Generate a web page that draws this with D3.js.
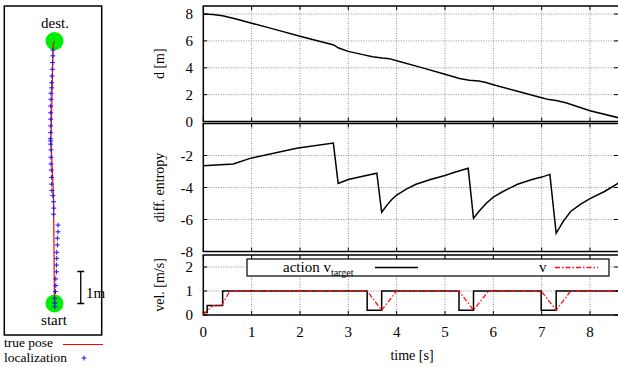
<!DOCTYPE html>
<html>
<head>
<meta charset="utf-8">
<script src="https://cdn.jsdelivr.net/npm/d3@7"></script>
<style>
  body { margin: 0; background: #fff; }
</style>
</head>
<body>
<div id="chart"></div>
<script>
// ---- data ----
// distance to destination d [m] over time
const dTime = [0, 0.2, 0.4, 0.7, 1.0, 1.5, 2.0, 2.5, 2.7, 2.8, 3.0, 3.3, 3.5, 3.7, 3.85, 4.0, 4.5, 5.0, 5.3, 5.5, 5.7, 5.85, 6.0, 6.5, 7.0, 7.15, 7.3, 7.5, 8.0, 8.6];
const dValue = [8.0, 7.96, 7.88, 7.62, 7.32, 6.84, 6.35, 5.88, 5.70, 5.47, 5.22, 4.98, 4.82, 4.72, 4.68, 4.52, 4.03, 3.52, 3.20, 3.08, 3.02, 2.90, 2.73, 2.25, 1.77, 1.63, 1.57, 1.40, 0.80, 0.27];

// differential entropy
const hTime = [0, 0.62, 0.97, 1.93, 2.69, 2.79, 3.0, 3.3, 3.59, 3.69, 3.8, 3.9, 4.0, 4.2, 4.4, 4.7, 5.0, 5.2, 5.48, 5.59, 5.7, 5.85, 6.0, 6.2, 6.5, 6.8, 7.0, 7.17, 7.30, 7.45, 7.6, 7.8, 8.0, 8.3, 8.6];
const hValue = [-2.64, -2.53, -2.18, -1.55, -1.22, -3.74, -3.5, -3.3, -3.11, -5.55, -5.1, -4.75, -4.47, -4.1, -3.8, -3.5, -3.25, -3.05, -2.80, -5.93, -5.5, -5.0, -4.6, -4.25, -3.8, -3.5, -3.35, -3.18, -6.86, -6.1, -5.5, -5.05, -4.7, -4.25, -3.7];

// action v_target (step function)
const aTime = [0, 0.08, 0.08, 0.40, 0.40, 3.39, 3.39, 3.69, 3.69, 5.29, 5.29, 5.59, 5.59, 6.99, 6.99, 7.30, 7.30, 8.6];
const aValue = [0.1, 0.1, 0.4, 0.4, 1, 1, 0.2, 0.2, 1, 1, 0.2, 0.2, 1, 1, 0.2, 0.2, 1, 1];

// measured velocity v
const vTime = [0, 0.2, 0.38, 0.55, 3.39, 3.69, 4.0, 5.29, 5.59, 5.9, 6.99, 7.30, 7.6, 8.6];
const vValue = [0.03, 0.39, 0.4, 1, 1, 0.2, 1, 1, 0.2, 1, 1, 0.2, 1, 1];

// map: true pose and localization estimates [m]
const trueX = [0, -0.03, -0.11, -0.04, 0];
const trueY = [0, 3.3, 5.1, 8.1, 8.2];
const locX = [-0.05, -0.05, -0.06, -0.07, -0.08, -0.09, -0.09, -0.11, -0.11, -0.12, -0.12, -0.12, -0.12, -0.12, -0.13, -0.12, -0.12, -0.11, -0.11, -0.11, -0.10, -0.09, -0.09, -0.08, -0.05, -0.03, -0.02, -0.03, 0.11, 0.11, 0.09, 0.09, 0.07, 0.07, 0.06, 0.06, 0.04, 0.04, 0.03, 0.01, 0.01, 0.01];
const locY = [7.92, 7.74, 7.53, 7.32, 7.11, 6.90, 6.74, 6.57, 6.38, 6.17, 5.96, 5.76, 5.55, 5.34, 5.15, 5.08, 4.98, 4.80, 4.57, 4.36, 4.17, 3.94, 3.73, 3.53, 3.37, 3.18, 2.98, 2.79, 2.45, 2.24, 2.04, 1.83, 1.60, 1.41, 1.20, 0.99, 0.77, 0.56, 0.37, 0.16, 0.01, -0.10];
const startPos = [0, 0];
const destPos = [0, 8.2];

const xTicks = [0, 1, 2, 3, 4, 5, 6, 7, 8];
const dTicks = [0, 2, 4, 6, 8];
const hTicks = [-8, -6, -4, -2];
const vTicks = [0, 1, 2];

// ---- layout ----
const W = 618, H = 367;
const svg = d3.select('#chart').append('svg')
    .attr('width', W)
    .attr('height', H);

const x = d3.scaleLinear().domain([0, 8.6]).range([203.3, 619]);

const panels = [
    { y: d3.scaleLinear().domain([0, 8.6]).range([121.5, 6]), ticks: dTicks, label: 'd [m]' },
    { y: d3.scaleLinear().domain([-8, 0]).range([251.5, 123.5]), ticks: hTicks, label: 'diff. entropy' },
    { y: d3.scaleLinear().domain([0, 2.5]).range([315, 255]), ticks: vTicks, label: 'vel. [m/s]' }
];

panels.forEach(p => {
    const [y0, y1] = p.y.range();
    const g = svg.append('g');
    // grid
    g.selectAll('.vgrid').data(xTicks.slice(1)).join('line')
        .attr('x1', d => x(d)).attr('x2', d => x(d))
        .attr('y1', y0).attr('y2', y1)
        .attr('stroke', '#777').attr('stroke-width', 0.8).attr('stroke-dasharray', '1,1.5');
    g.selectAll('.hgrid').data(p.ticks.filter(t => t !== p.y.domain()[0])).join('line')
        .attr('x1', x.range()[0]).attr('x2', x.range()[1])
        .attr('y1', d => p.y(d)).attr('y2', d => p.y(d))
        .attr('stroke', '#777').attr('stroke-width', 0.8).attr('stroke-dasharray', '1,1.5');
    // ticks (inward, all four sides)
    xTicks.forEach(t => {
        g.append('line').attr('x1', x(t)).attr('x2', x(t)).attr('y1', y0).attr('y2', y0 - 4).attr('stroke', '#000');
        g.append('line').attr('x1', x(t)).attr('x2', x(t)).attr('y1', y1).attr('y2', y1 + 4).attr('stroke', '#000');
    });
    p.ticks.forEach(t => {
        g.append('line').attr('x1', x.range()[0]).attr('x2', x.range()[0] + 4).attr('y1', p.y(t)).attr('y2', p.y(t)).attr('stroke', '#000');
        g.append('line').attr('x1', x.range()[1] - 5).attr('x2', x.range()[1]).attr('y1', p.y(t)).attr('y2', p.y(t)).attr('stroke', '#000');
    });
    // y tick labels
    g.selectAll('.yl').data(p.ticks).join('text')
        .attr('x', 193).attr('y', d => p.y(d) + 5)
        .attr('text-anchor', 'end').attr('font-size', 15)
        .text(d => d);
    // y-axis label
    g.append('text')
        .attr('transform', `translate(164,${(y0 + y1) / 2}) rotate(-90)`)
        .attr('text-anchor', 'middle').attr('font-size', 14)
        .text(p.label);
    // border
    g.append('rect')
        .attr('x', x.range()[0]).attr('y', y1)
        .attr('width', x.range()[1] - x.range()[0]).attr('height', y0 - y1)
        .attr('fill', 'none').attr('stroke', '#000').attr('stroke-width', 1.5);
});

// x tick labels and title (bottom panel)
svg.selectAll('.xl').data(xTicks).join('text')
    .attr('x', d => x(d)).attr('y', 337)
    .attr('text-anchor', 'middle').attr('font-size', 15)
    .text(d => d);
svg.append('text').attr('x', 412).attr('y', 360)
    .attr('text-anchor', 'middle').attr('font-size', 14)
    .text('time [s]');

// lines
const line = (yScale) => d3.line().x(d => x(d[0])).y(d => yScale(d[1]));

svg.append('path')
    .datum(d3.zip(dTime, dValue))
    .attr('d', line(panels[0].y))
    .attr('fill', 'none').attr('stroke', '#000').attr('stroke-width', 1.5);

svg.append('path')
    .datum(d3.zip(hTime, hValue))
    .attr('d', line(panels[1].y))
    .attr('fill', 'none').attr('stroke', '#000').attr('stroke-width', 1.5);

// legend box in velocity panel (white fill hides grid)
const leg = svg.append('g');
leg.append('rect').attr('x', 247).attr('y', 259).attr('width', 362).attr('height', 17)
    .attr('fill', '#fff').attr('stroke', '#000').attr('stroke-width', 1.2);
const legText = leg.append('text').attr('x', 283).attr('y', 272).attr('font-size', 15);
legText.append('tspan').text('action v');
legText.append('tspan').attr('font-size', 10).attr('dy', 4).text('target');
leg.append('line').attr('x1', 375).attr('x2', 418).attr('y1', 267.5).attr('y2', 267.5)
    .attr('stroke', '#000').attr('stroke-width', 1.5);
leg.append('text').attr('x', 539).attr('y', 272).attr('font-size', 15).text('v');
leg.append('line').attr('x1', 555).attr('x2', 598).attr('y1', 267.5).attr('y2', 267.5)
    .attr('stroke', '#ff1010').attr('stroke-width', 1.3).attr('stroke-dasharray', '5,2,1.5,2');

svg.append('path')
    .datum(d3.zip(aTime, aValue))
    .attr('d', line(panels[2].y))
    .attr('fill', 'none').attr('stroke', '#000').attr('stroke-width', 1.5);

svg.append('path')
    .datum(d3.zip(vTime, vValue))
    .attr('d', line(panels[2].y))
    .attr('fill', 'none').attr('stroke', '#ff1010').attr('stroke-width', 1.3)
    .attr('stroke-dasharray', '5,2,1.5,2');

// ---- map panel ----
const mx = d3.scaleLinear().domain([0, 1]).range([54.5, 86.5]);
const my = d3.scaleLinear().domain([0, 1]).range([303.5, 271.5]);

const map = svg.append('g');
map.append('rect').attr('x', 4.3).attr('y', 6).attr('width', 97.4).attr('height', 329)
    .attr('fill', 'none').attr('stroke', '#000').attr('stroke-width', 1.5);

[startPos, destPos].forEach(p => {
    map.append('circle').attr('cx', mx(p[0])).attr('cy', my(p[1])).attr('r', 9)
        .attr('fill', '#00ee00');
});

map.append('text').attr('x', 55).attr('y', 28).attr('text-anchor', 'middle')
    .attr('font-size', 15).text('dest.');
map.append('text').attr('x', 54).attr('y', 325).attr('text-anchor', 'middle')
    .attr('font-size', 15).text('start');

map.append('path')
    .datum(d3.zip(trueX, trueY))
    .attr('d', d3.line().x(d => mx(d[0])).y(d => my(d[1])))
    .attr('fill', 'none').attr('stroke', '#ff0000').attr('stroke-width', 1.2);

const cross = (gsel, cx, cy, s) => {
    gsel.append('path')
        .attr('d', `M${cx - s},${cy}H${cx + s}M${cx},${cy - s}V${cy + s}`)
        .attr('stroke', '#1515ff').attr('stroke-width', 1).attr('fill', 'none');
};
d3.zip(locX, locY).forEach(d => cross(map, mx(d[0]), my(d[1]), 2.5));

// 1 m scale bar
const sbX = mx(0.82);
map.append('path')
    .attr('d', `M${sbX},${my(1)}V${my(0)}M${sbX - 3.5},${my(1)}H${sbX + 3.5}M${sbX - 3.5},${my(0)}H${sbX + 3.5}`)
    .attr('stroke', '#000').attr('stroke-width', 1.3).attr('fill', 'none');
map.append('text').attr('x', 86).attr('y', 298).attr('font-size', 15).text('1m');

// map legend
svg.append('text').attr('x', 4).attr('y', 347).attr('font-size', 13.5).text('true pose');
svg.append('line').attr('x1', 63).attr('x2', 103).attr('y1', 344.5).attr('y2', 344.5)
    .attr('stroke', '#ff0000').attr('stroke-width', 1.2);
svg.append('text').attr('x', 4).attr('y', 362).attr('font-size', 13.5).text('localization');
cross(svg, 84, 358, 2.5);

// serif font on every text element
svg.selectAll('text').attr('font-family', 'Liberation Serif');
</script>
</body>
</html>
